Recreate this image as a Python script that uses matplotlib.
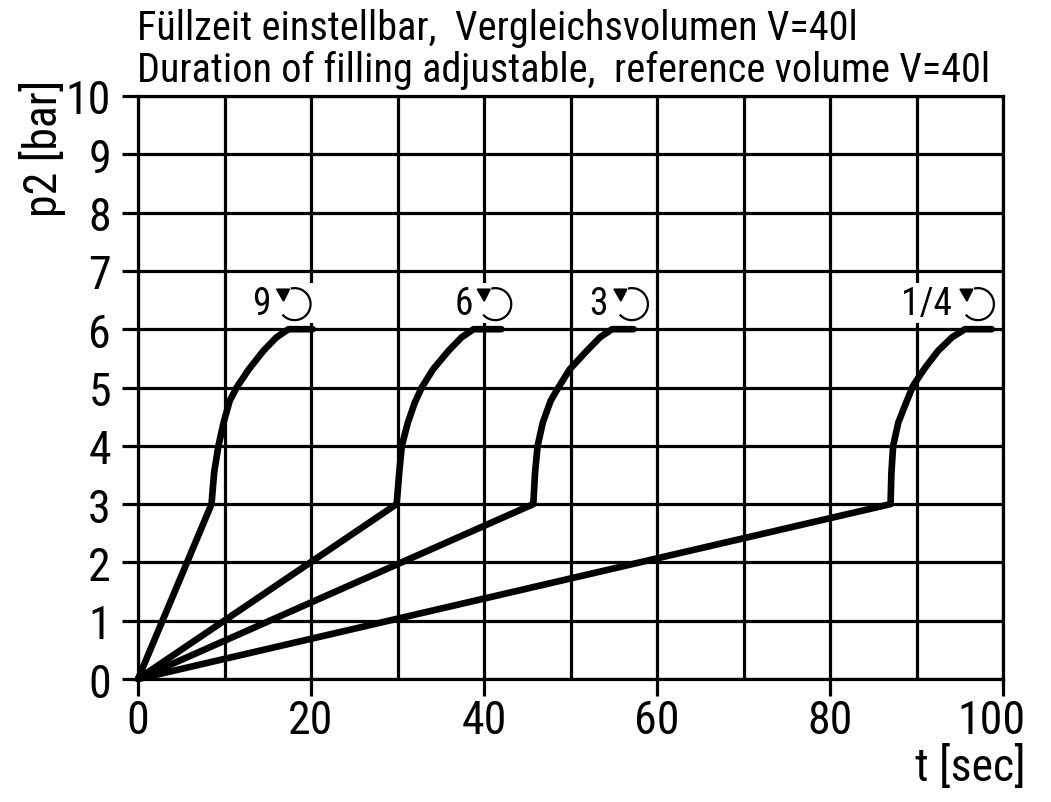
import numpy as np
import matplotlib
matplotlib.use('Agg')
import matplotlib.pyplot as plt
from matplotlib.patches import Rectangle
from matplotlib.transforms import Affine2D, ScaledTranslation

plt.rcParams['font.family'] = ['Roboto Condensed', 'Liberation Sans']

# Curves, one per setting
labels = ['9', '6', '3', '1/4']
t_9 = [0, 8.5, 8.8, 9.3, 9.9, 10.6, 11.4, 12.8, 14.5, 16.0, 17.4, 20.2]
p_9 = [0, 3.0, 3.54, 4.0, 4.4, 4.77, 5.0, 5.31, 5.63, 5.86, 6.0, 6.0]
t_6 = [0, 29.9, 30.2, 30.5, 31.2, 32.0, 32.8, 34.1, 35.9, 37.4, 38.8, 42.0]
p_6 = [0, 3.0, 3.54, 4.0, 4.4, 4.74, 5.0, 5.31, 5.63, 5.86, 6.0, 6.0]
t_3 = [0, 45.7, 45.9, 46.2, 46.8, 47.7, 48.6, 49.9, 51.7, 53.4, 54.8, 57.3]
p_3 = [0, 3.0, 3.54, 4.0, 4.4, 4.77, 5.0, 5.31, 5.6, 5.86, 6.0, 6.0]
t_q = [0, 87.0, 87.1, 87.3, 87.9, 88.8, 89.6, 91.0, 92.5, 94.1, 95.6, 98.7]
p_q = [0, 3.0, 3.54, 4.0, 4.4, 4.74, 5.03, 5.34, 5.63, 5.86, 6.0, 6.0]
curves = [(t_9, p_9), (t_6, p_6), (t_3, p_3), (t_q, p_q)]

x_major = [0, 20, 40, 60, 80, 100]
x_minor = [10, 30, 50, 70, 90]
y_ticks = list(range(0, 11))

# label anchor, arrow centre and white patch behind them
label_x = [14.3, 37.7, 53.2, 91.1]
arrow_x = [18.1, 41.3, 57.1, 97.1]
patch_x = [(13.0, 20.6), (36.5, 43.5), (52.0, 59.3), (88.5, 99.5)]

W, H = 1051, 803
fig = plt.figure(figsize=(W / 100, H / 100), dpi=100)
ax = fig.add_axes([138 / W, 1 - 680 / H, 865 / W, 583 / H])
ax.set_xlim(0, 100)
ax.set_ylim(0, 10)

ax.set_xticks(x_major)
ax.set_xticks(x_minor, minor=True)
ax.set_yticks(y_ticks)
ax.grid(True, which='both', color='black', linewidth=2.3)
ax.set_axisbelow(True)
ax.tick_params(axis='y', length=11.5, width=2.3, labelsize=33, pad=8)
ax.tick_params(axis='x', length=12, width=2.3, labelsize=33, pad=2)
ax.tick_params(axis='x', which='minor', length=0)
for s in ax.spines.values():
    s.set_linewidth(2.3)

# the 100 sits a bit left of its tick
lab_100 = ax.get_xticklabels()[-1]
lab_100.set_transform(lab_100.get_transform() + ScaledTranslation(-12 / 100, 0, fig.dpi_scale_trans))

for (t, p) in curves:
    ax.plot(t, p, color='black', linewidth=4.8, solid_capstyle='round',
            solid_joinstyle='round', clip_on=False, zorder=5)

# Setting labels with the turning arrows
for lab, lx, a_x, (x0, x1) in zip(labels, label_x, arrow_x, patch_x):
    ax.add_patch(Rectangle((x0, 6.1), x1 - x0, 0.7, facecolor='white',
                           edgecolor='none', zorder=3))
    ax.text(lx, 6.44, lab, fontsize=27, ha='center', va='center', zorder=6)
    # arrow drawn in pixels around its centre
    cx, cy = ax.transData.transform((a_x, 6.43))
    tr = Affine2D().translate(cx, cy)
    ang = np.radians(np.linspace(100, -135, 60))
    ax.plot(16 * np.cos(ang), 16 * np.sin(ang), color='black', linewidth=1.6,
            transform=tr, zorder=6, clip_on=False)
    ax.fill([-18, -5, -11], [15, 15, 3], color='black', transform=tr, zorder=6,
            clip_on=False)

fig.text(137 / W, 1 - 29 / H, 'Füllzeit einstellbar,  Vergleichsvolumen V=40l',
         fontsize=29, ha='left', va='center')
fig.text(137 / W, 1 - 70 / H, 'Duration of filling adjustable,  reference volume V=40l',
         fontsize=29, ha='left', va='center')
fig.text(42 / W, 1 - 148 / H, 'p2 [bar]', fontsize=33, rotation=90,
         ha='center', va='center')
fig.text(1026 / W, 1 - 768 / H, 't [sec]', fontsize=33, ha='right', va='center')

fig.savefig('out.png', dpi=100)
